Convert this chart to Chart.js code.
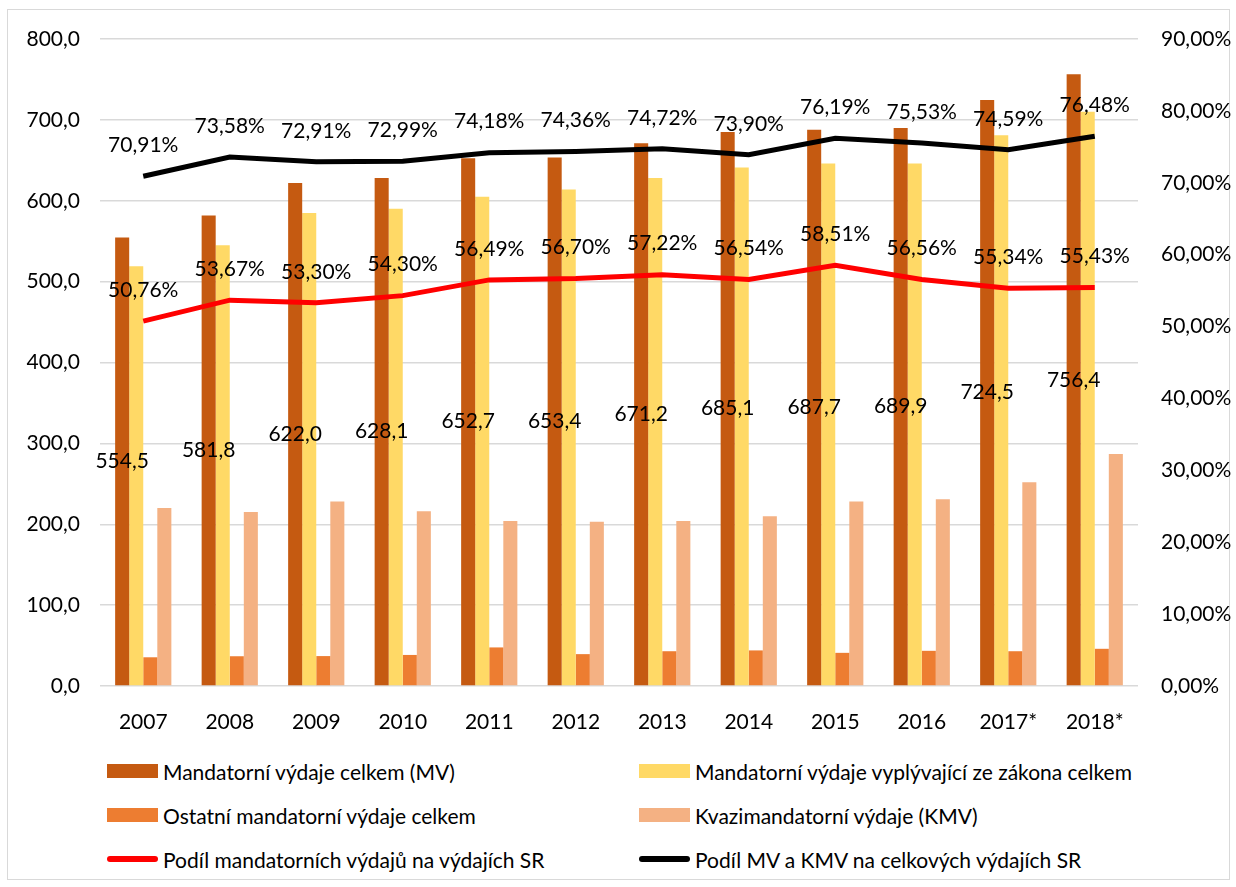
<!DOCTYPE html>
<html lang="sk">
<head>
  <meta charset="UTF-8">
  <title>Mandatorní výdaje</title>
  <script src="https://cdn.jsdelivr.net/npm/chart.js"></script>
  <style>
    body { margin: 0; background: #fff; }
    .wrap { position: relative; width: 1236px; height: 887px; font-family: Lato, sans-serif; }
    .frame { position: absolute; left: 7px; top: 9px; width: 1221px; height: 869px; border: 1px solid #d9d9d9; }
    #chart { position: absolute; left: 0; top: 0; }
    .legend { position: absolute; left: 107px; top: 749px; display: grid; grid-template-columns: 532px 520px; grid-auto-rows: 44px; }
    .item { display: flex; align-items: center; font-size: 21px; color: #000; white-space: nowrap; }
    .swatch { width: 51px; height: 14px; margin-right: 5px; flex: none; }
    .swatch.line { height: 6px; border-radius: 3px; }
  </style>
</head>
<body>
  <div class="wrap">
    <div class="frame"></div>
    <canvas id="chart" width="1236" height="740"></canvas>
    <div class="legend" id="legend"></div>
  </div>

  <script>
    const years = ['2007', '2008', '2009', '2010', '2011', '2012', '2013', '2014', '2015', '2016', '2017*', '2018*'];
    // mld. / tis. - hodnoty z grafu
    const mvTotal = [554.5, 581.8, 622.0, 628.1, 652.7, 653.4, 671.2, 685.1, 687.7, 689.9, 724.5, 756.4];
    const mvLaw = [519, 545, 585, 590, 605, 614, 628, 641, 646, 646, 681, 710];
    const mvOther = [35.5, 36.8, 37, 38.4, 47.7, 39.4, 43, 44, 41, 43.5, 43, 46];
    const kmv = [220, 215, 228, 216, 204, 203, 204, 210, 228, 231, 252, 287];
    // podíly v %
    const shareMV = [50.76, 53.67, 53.30, 54.30, 56.49, 56.70, 57.22, 56.54, 58.51, 56.56, 55.34, 55.43];
    const shareMVKMV = [70.91, 73.58, 72.91, 72.99, 74.18, 74.36, 74.72, 73.90, 76.19, 75.53, 74.59, 76.48];

    const font = { family: 'Lato, sans-serif', size: 21 };
    const fmt1 = v => v.toFixed(1).replace('.', ',');
    const fmtPct = v => v.toFixed(2).replace('.', ',') + '%';

    // popisky hodnot
    const labelsPlugin = {
      id: 'valueLabels',
      afterDatasetsDraw(chart) {
        const ctx = chart.ctx;
        ctx.save();
        ctx.font = '21px Lato, sans-serif';
        ctx.fillStyle = '#000';
        ctx.textAlign = 'center';
        ctx.textBaseline = 'middle';
        chart.data.datasets.forEach((ds, i) => {
          const meta = chart.getDatasetMeta(i);
          if (ds.showLabels === 'bar') {
            meta.data.forEach((el, j) => {
              ctx.fillText(fmt1(ds.data[j]), el.x, (el.y + el.base) / 2);
            });
          } else if (ds.showLabels === 'line') {
            meta.data.forEach((el, j) => {
              ctx.fillText(fmtPct(ds.data[j]), el.x, el.y - 31);
            });
          }
        });
        ctx.restore();
      }
    };

    const chart = new Chart(document.getElementById('chart'), {
      data: {
        labels: years,
        datasets: [
          { type: 'bar', label: 'Mandatorní výdaje celkem (MV)', data: mvTotal, backgroundColor: '#C55A11', yAxisID: 'y', order: 2, showLabels: 'bar' },
          { type: 'bar', label: 'Mandatorní výdaje vyplývající ze zákona celkem', data: mvLaw, backgroundColor: '#FFD966', yAxisID: 'y', order: 2 },
          { type: 'bar', label: 'Ostatní mandatorní výdaje celkem', data: mvOther, backgroundColor: '#ED7D31', yAxisID: 'y', order: 2 },
          { type: 'bar', label: 'Kvazimandatorní výdaje (KMV)', data: kmv, backgroundColor: '#F4B183', yAxisID: 'y', order: 2 },
          { type: 'line', label: 'Podíl mandatorních výdajů na výdajích SR', data: shareMV, borderColor: '#FF0000', backgroundColor: '#FF0000', borderWidth: 5, pointRadius: 0, tension: 0, yAxisID: 'y1', order: 1, showLabels: 'line' },
          { type: 'line', label: 'Podíl MV a KMV na celkových výdajích SR', data: shareMVKMV, borderColor: '#000000', backgroundColor: '#000000', borderWidth: 5, pointRadius: 0, tension: 0, yAxisID: 'y1', order: 1, showLabels: 'line' }
        ]
      },
      options: {
        responsive: false,
        animation: false,
        devicePixelRatio: 1,
        layout: { padding: { top: 39, bottom: 0, left: 0, right: 0 } },
        datasets: {
          bar: { categoryPercentage: 0.65, barPercentage: 1.0 }
        },
        plugins: {
          legend: { display: false },
          tooltip: { enabled: false }
        },
        scales: {
          x: {
            grid: { display: false },
            border: { display: false },
            ticks: { color: '#000', font: font, padding: 16, maxRotation: 0 },
            afterFit(scale) { scale.height = 54; }
          },
          y: {
            position: 'left',
            min: 0, max: 800,
            grid: { color: '#d9d9d9', lineWidth: 1.5, drawTicks: false },
            border: { display: false },
            ticks: { stepSize: 100, color: '#000', font: font, padding: 20, callback: v => fmt1(v) },
            afterFit(scale) { scale.width = 100; }
          },
          y1: {
            position: 'right',
            min: 0, max: 90,
            grid: { drawOnChartArea: false, drawTicks: false },
            border: { display: false },
            ticks: { stepSize: 10, color: '#000', font: font, padding: 23, callback: v => fmtPct(v) },
            afterFit(scale) { scale.width = 98; }
          }
        }
      },
      plugins: [labelsPlugin]
    });

    // legenda ve dvou sloupcích
    const legend = document.getElementById('legend');
    chart.data.datasets.forEach(ds => {
      const item = document.createElement('div');
      item.className = 'item';
      const sw = document.createElement('span');
      sw.className = 'swatch' + (ds.type === 'line' ? ' line' : '');
      sw.style.background = ds.type === 'line' ? ds.borderColor : ds.backgroundColor;
      item.appendChild(sw);
      item.appendChild(document.createTextNode(ds.label));
      legend.appendChild(item);
    });
  </script>
</body>
</html>
